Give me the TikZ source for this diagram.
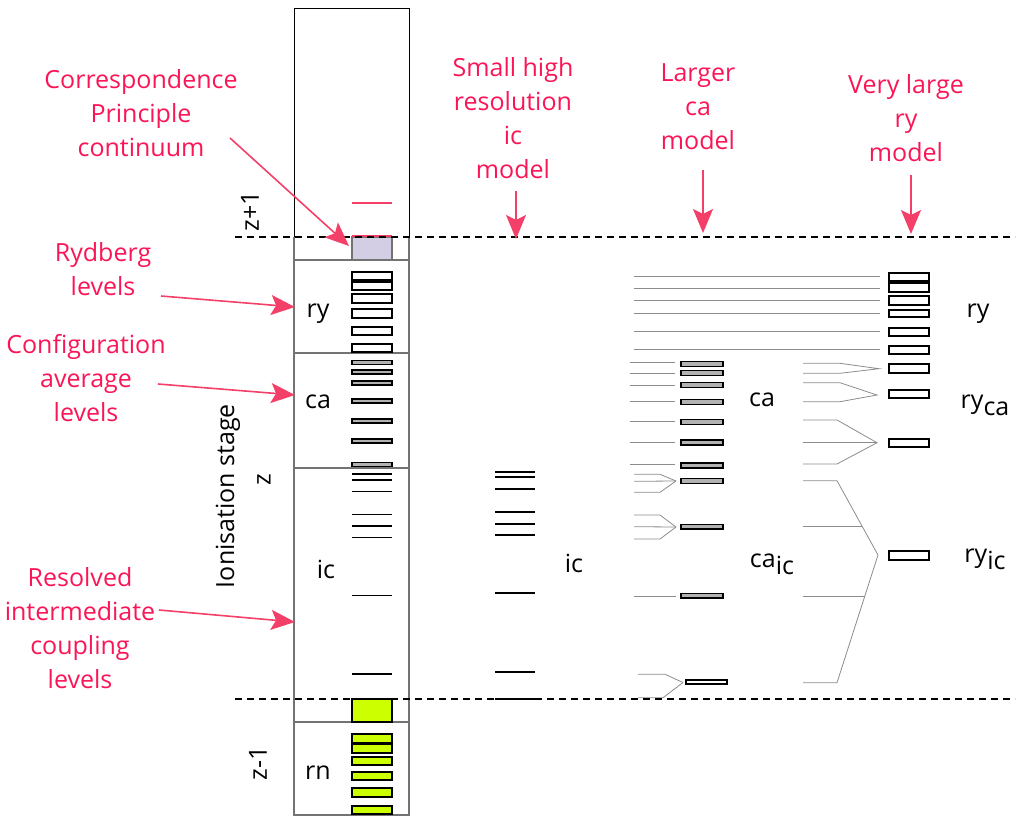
\documentclass[tikz,border=0pt]{standalone}
\usepackage{fontspec}
\setmainfont{Open Sans}
\usetikzlibrary{arrows.meta}
\definecolor{pinktxt}{RGB}{250,22,86}
\definecolor{pinkarr}{RGB}{244,64,104}
\definecolor{lav}{RGB}{212,206,228}
\definecolor{lime}{RGB}{204,255,0}
\begin{document}
\begin{tikzpicture}[x=1pt,y=-1pt,
  lbl/.style={text=pinktxt, font=\fontsize{25}{34}\selectfont, align=center, inner sep=0pt},
  blk/.style={font=\fontsize{25}{30}\selectfont, inner sep=0pt},
  parr/.style={pinkarr, line width=1.6pt, -{Stealth[length=24pt,width=20pt,inset=5pt]}},
  lvlbox/.style={draw=black, line width=1.8pt, fill=white},
  cabox/.style={draw=black, line width=1.5pt, fill=gray!60},
  icline/.style={line width=1.9pt},
  fan/.style={black!45, line width=0.8pt},
  sep/.style={black!55, line width=1.1pt},
  dline/.style={dash pattern=on 7pt off 5pt, line width=1.4pt}]
\useasboundingbox (0,0) rectangle (1020,822);
% ---------- left column ----------
\draw[black, line width=0.9pt] (294,237) -- (294,8) -- (409,8) -- (409,237);
\draw[sep] (294,237) -- (294,815) -- (409,815) -- (409,237);
\foreach \y in {260,353,468,722} \draw[sep] (294,\y) -- (409,\y);
\draw[black!55, line width=1.1pt, fill=lav] (352,237) rectangle (392,260);
\draw[pinkarr, line width=1.4pt] (352,203) -- (392,203);
\draw[pinkarr, line width=1.4pt] (352,236) -- (392,236);
\draw[black, line width=1.4pt, fill=lime] (352,699) rectangle (392,722);
\foreach \a/\b in {734/743,744/753,757/765,772/780,788/797,806/814}
  \draw[black, line width=1.8pt, fill=lime] (352,\a) rectangle (392,\b);
\foreach \a/\b in {272/280,282/290,294/303,309/318,327/335,344/352}
  \draw[lvlbox] (352,\a) rectangle (392,\b);
\foreach \c in {362.5,372,383,401,421,441,464.5}
  \draw[cabox] (352,\c-2.2) rectangle (392,\c+2.2);
\foreach \y in {474,480,491.5,514.5,526,537.5,595.5,674}
  \draw[icline] (352,\y) -- (392,\y);
% ---------- ic model ----------
\foreach \y in {471.7,477.3,489,512.3,523.7,535,592.7,671.7,699}
  \draw[icline] (495,\y) -- (535,\y);
% ---------- ca model ----------
\foreach \y in {276,288,300,313,331,349}
  \draw[fan] (634,\y) -- (880,\y);
\foreach \y in {362.7,373.3,385,401.7,421.3,442,464.7}
  \draw[fan] (630,\y) -- (675,\y);
\foreach \c in {364,373,385,402,422,442.5,465.5,481,526.7,595.7}
  \draw[cabox] (681,\c-2.3) rectangle (723,\c+2.3);
\draw[lvlbox, line width=1.6pt] (686,679.8) rectangle (727,684.2);
\draw[fan] (634,474.3) -- (660,474.3) -- (676,481);
\draw[fan] (634,481.3) -- (676,481);
\draw[fan] (634,492.3) -- (660,492.3) -- (676,481);
\draw[fan] (634,515) -- (660,515) -- (676,527);
\draw[fan] (634,526.7) -- (676,527);
\draw[fan] (634,539) -- (660,539) -- (676,527);
\draw[fan] (634,596) -- (676,596);
\draw[fan] (638,674.3) -- (665,674.3) -- (683,682.5);
\draw[fan] (638,697.7) -- (663,697.7) -- (683,682.5);
% ---------- ry model ----------
\foreach \a/\b in {272.7/280.7,282.7/291.7,295.7/304.7,310/317.3,327.7/336,345.7/354,364.3/373,390.3/398,438.7/446.7,551/560}
  \draw[lvlbox] (889,\a) rectangle (929,\b);
\draw[fan] (803,363.3) -- (840,363.3) -- (879,368.7) -- (840,373.3) -- (803,373.3);
\draw[fan] (803,382.7) -- (840,382.7) -- (877,395) -- (840,401.7) -- (803,401.7);
\draw[fan] (803,420) -- (837,420) -- (877,442.7) -- (837,464) -- (803,464);
\draw[fan] (803,442.7) -- (877,442.7);
\draw[fan] (803,480.7) -- (837,480.7) -- (878,555) -- (837,682.7) -- (803,682.7);
\draw[fan] (803,526.7) -- (862.4,526.7);
\draw[fan] (803,596.7) -- (864.6,596.7);
% ---------- dashed lines ----------
\draw[dline] (235,237) -- (1015,237);
\draw[dline] (235,699) -- (1015,699);
% ---------- black labels ----------
\node[blk] (lry) at (318,314) {ry};
\node[blk] (lca) at (318,402) {ca};
\node[blk] (lic) at (326,569) {ic};
\node[blk] (lrn) at (318,773) {rn};
\node[blk] (mic) at (574,563) {ic};
\node[blk] (cca) at (762,400) {ca};
\node[blk] (ccaic) at (772,564) {ca\raisebox{-7pt}{ic}};
\node[blk] (rry) at (978,314) {ry};
\node[blk] (rryca) at (985,405) {ry\raisebox{-7pt}{ca}};
\node[blk] (rryic) at (985,559) {ry\raisebox{-7pt}{ic}};
\node[blk, rotate=90] (zp1) at (250,211) {z+1};
\node[blk, rotate=90] (ion) at (228,496) {Ionisation stage};
\node[blk, rotate=90] (zz) at (264,480) {z};
\node[blk, rotate=90] (zm1) at (258,763) {z-1};
% ---------- pink labels ----------
\node[lbl] (cp) at (141,113) {Correspondence\\Principle\\continuum};
\node[lbl] (ryd) at (103,269) {Rydberg\\levels};
\node[lbl] (conf) at (86,378) {Configuration\\average\\levels};
\node[lbl] (res) at (80,628) {Resolved\\intermediate\\coupling\\levels};
\node[lbl] (tic) at (513,118) {Small high\\resolution\\ic\\model};
\node[lbl] (tca) at (698,107) {Larger\\ca\\model};
\node[lbl] (try) at (906,118) {Very large\\ry\\model};
% ---------- arrows ----------
\coordinate (cpS) at (230,138);  \coordinate (cpE) at (349,246);
\coordinate (rydS) at (161,296); \coordinate (rydE) at (295,307);
\coordinate (confS) at (158,384); \coordinate (confE) at (295,395);
\coordinate (resS) at (159,610); \coordinate (resE) at (295,622);
\coordinate (ticS) at (516,191); \coordinate (ticE) at (516,239);
\coordinate (tcaS) at (703,170); \coordinate (tcaE) at (703,233);
\coordinate (tryS) at (911,175); \coordinate (tryE) at (911,234);
\draw[parr] (cpS) -- (cpE);
\draw[parr] (rydS) -- (rydE);
\draw[parr] (confS) -- (confE);
\draw[parr] (resS) -- (resE);
\draw[parr] (ticS) -- (ticE);
\draw[parr] (tcaS) -- (tcaE);
\draw[parr] (tryS) -- (tryE);
\end{tikzpicture}
\end{document}
